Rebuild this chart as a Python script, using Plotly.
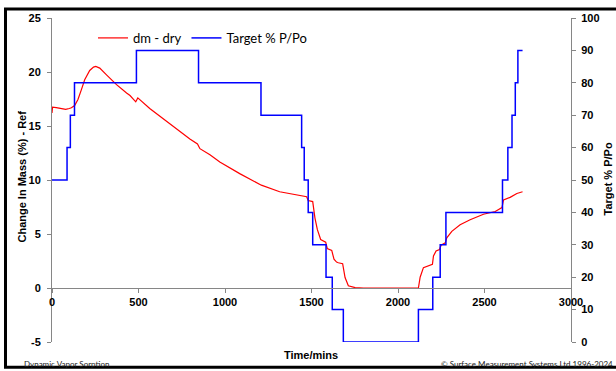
import plotly.graph_objects as go

# ---- data ----
mass_time = [0, 3, 25, 45, 65, 79, 100, 112, 131, 150, 170, 189, 218, 240, 253, 276, 315, 373, 431,
             451, 484, 490, 496, 565, 681, 797, 841, 847, 855, 913, 970, 1085, 1200, 1210,
             1316, 1414, 1440, 1472, 1481, 1507, 1520, 1534, 1553, 1570, 1582, 1591, 1605,
             1617, 1630, 1645, 1655, 1680, 1694, 1713, 1752, 1800, 2118, 2128, 2147, 2176, 2199, 2205,
             2220, 2240, 2249, 2273, 2282, 2311, 2359, 2417, 2494, 2562, 2601, 2610, 2648, 2687, 2720]
mass_change = [16.2, 16.75, 16.7, 16.63, 16.58, 16.54, 16.62, 16.69, 16.9, 17.45, 18.37, 19.28, 20.14,
               20.45, 20.51, 20.36, 19.74, 18.83, 18.05,
               17.82, 17.24, 17.5, 17.6, 16.62, 15.17, 13.79, 13.33, 13.1, 12.9, 12.33, 11.66, 10.59,
               9.67, 9.52, 8.91, 8.66, 8.55,
               8.45, 8.1, 8.0, 6.47, 5.4, 4.49, 4.3, 4.24, 3.66, 3.52, 3.48, 2.66, 2.4, 2.34, 2.25, 0.97,
               0.21, 0.03, 0.0, 0.0, 1.0, 1.89, 2.1, 2.2, 2.96, 3.42, 3.57, 3.96, 4.18, 4.64, 5.25, 5.86,
               6.32, 6.83, 7.08, 7.45, 8.15, 8.39, 8.75, 8.91]

target_time = [0, 87, 106, 130, 488, 847, 1208, 1443, 1458, 1481, 1507, 1584, 1620, 1684, 2118, 2201,
               2244, 2277, 2604, 2635, 2659, 2678, 2693, 2720]
target_pp = [50, 60, 70, 80, 90, 80, 70, 60, 50, 40, 30, 20, 10, 0, 10, 20, 30, 40, 50, 60, 70, 80, 90, 90]

x_ticks = [0, 500, 1000, 1500, 2000, 2500, 3000]
left_ticks = [-5, 0, 5, 10, 15, 20, 25]
left_labels = ["-5", "0", "5", "10", "15", "20", "25"]
right_ticks = [0, 10, 20, 30, 40, 50, 60, 70, 80, 90, 100]

# ---- layout geometry (pixels) ----
W, H = 616, 371
L, R, T, B = 52, 571, 15, 342
pw, ph = R - L, B - T


def px(x):
    return (x - L) / pw


def py(y):
    return (B - y) / ph


AX = "#868686"
tickfont = dict(family="Liberation Sans, Arial", size=11, color="black", weight="bold")

fig = go.Figure()
fig.add_trace(go.Scatter(x=mass_time, y=mass_change, mode="lines", name="dm - dry",
                         line=dict(color="#FF0000", width=1.2), yaxis="y"))
fig.add_trace(go.Scatter(x=target_time, y=target_pp, mode="lines", name="Target % P/Po",
                         line=dict(color="#0000FF", width=1.5, shape="hv"), yaxis="y2"))

fig.update_layout(
    width=W, height=H,
    margin=dict(l=L, r=W - R, t=T, b=H - B),
    paper_bgcolor="white", plot_bgcolor="white",
    showlegend=True,
    legend=dict(orientation="h", x=px(93), y=py(20), xanchor="left", yanchor="top",
                bgcolor="rgba(0,0,0,0)", font=dict(family="Lato", size=13, color="black"),
                itemwidth=30, tracegroupgap=0),
    xaxis=dict(range=[0, 3000], tickvals=x_ticks, showgrid=False, zeroline=False,
               showline=True, linecolor=AX, linewidth=1, anchor="free", position=1 / 6,
               ticks="outside", ticklen=4, tickcolor=AX, tickfont=tickfont),
    yaxis=dict(range=[-5, 25], tickvals=left_ticks, ticktext=left_labels, showgrid=False,
               zeroline=False, showline=True, linecolor=AX, linewidth=1, ticks="outside", ticklen=4,
               tickcolor=AX, tickfont=tickfont, ticklabelstandoff=4),
    yaxis2=dict(range=[0, 100], tickvals=right_ticks, overlaying="y", side="right",
                showgrid=False, zeroline=False, showline=True, linecolor=AX, linewidth=1,
                ticks="outside", ticklen=4, tickcolor=AX, tickfont=tickfont, ticklabelstandoff=3),
)

title_font = dict(family="Liberation Sans, Arial", size=11, color="black", weight="bold")
fig.add_annotation(text="Time/mins", x=px(311), y=py(355), xref="paper", yref="paper",
                   showarrow=False, font=title_font, xanchor="center", yanchor="middle")
fig.add_annotation(text="Change In Mass (%) - Ref", x=px(22), y=py(175), xref="paper", yref="paper",
                   showarrow=False, font=title_font, textangle=-90, xanchor="center", yanchor="middle")
fig.add_annotation(text="Target % P/Po", x=px(608), y=py(178), xref="paper", yref="paper",
                   showarrow=False, font=title_font, textangle=-90, xanchor="center", yanchor="middle")

small = dict(family="Lato", size=8, color="#222222")
fig.add_annotation(text="Dynamic Vapor Sorption", x=px(22), y=py(364), xref="paper", yref="paper",
                   showarrow=False, font=small, xanchor="left", yanchor="middle")
fig.add_annotation(text="© Surface Measurement Systems Ltd 1996-2024", x=px(615), y=py(364),
                   xref="paper", yref="paper", showarrow=False, font=small,
                   xanchor="right", yanchor="middle")

# outer frame
fig.add_shape(type="rect", xref="paper", yref="paper", x0=px(5.5), x1=px(630), y0=py(367.5), y1=py(6),
              line=dict(color="black", width=3), fillcolor="rgba(0,0,0,0)", layer="above")

fig.write_html("out.html")
